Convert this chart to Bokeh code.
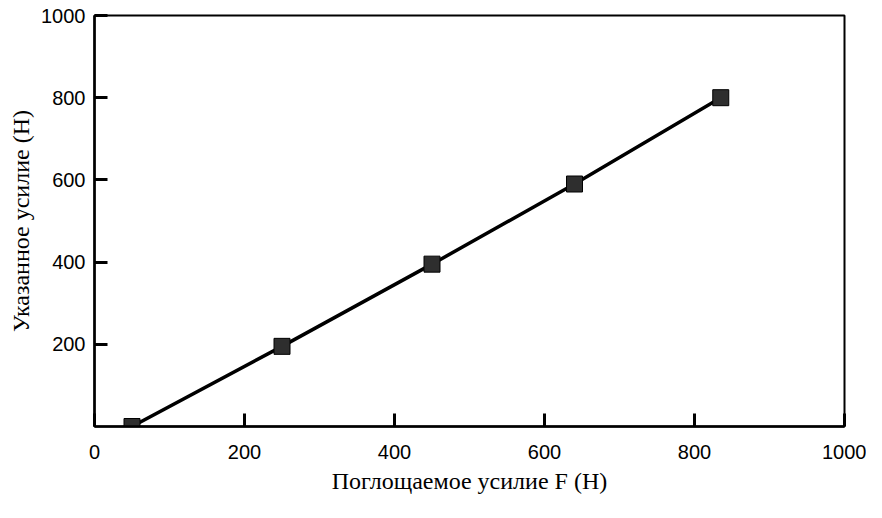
from bokeh.plotting import figure
from bokeh.models import FixedTicker, Range1d
from bokeh.embed import file_html
from bokeh.resources import INLINE

# Data
absorbed_force = [50, 250, 450, 640, 835]
indicated_force = [0, 195, 395, 590, 800]
x_ticks = [0, 200, 400, 600, 800, 1000]
y_ticks = [200, 400, 600, 800, 1000]

p = figure(width=866, height=502, output_backend="svg", toolbar_location=None,
           x_range=Range1d(0, 1000), y_range=Range1d(0, 1000),
           min_border_left=94, min_border_right=22, min_border_top=15, min_border_bottom=76)

p.xgrid.visible = False
p.ygrid.visible = False
p.outline_line_color = "black"
p.outline_line_width = 2
p.outline_line_alpha = 1.0
p.background_fill_color = "white"
p.border_fill_color = "white"

p.line(absorbed_force, indicated_force, line_color="black", line_width=3.5)
p.scatter(absorbed_force, indicated_force, marker="square", size=16,
          fill_color="#2e2e2e", line_color="black", line_width=1)

for ax in (p.xaxis[0], p.yaxis[0]):
    ax.axis_line_color = "black"
    ax.axis_line_width = 2.5
    ax.major_tick_in = 13
    ax.major_tick_out = 0
    ax.major_tick_line_width = 3
    ax.major_tick_line_color = "black"
    ax.minor_tick_line_color = None
    ax.major_label_text_font = "Liberation Sans"
    ax.major_label_text_font_size = "20px"
    ax.major_label_text_color = "black"
    ax.axis_label_text_font = "Liberation Serif"
    ax.axis_label_text_font_size = "24px"
    ax.axis_label_text_font_style = "normal"
    ax.axis_label_text_color = "black"

p.xaxis[0].ticker = FixedTicker(ticks=x_ticks)
p.yaxis[0].ticker = FixedTicker(ticks=y_ticks)
p.xaxis[0].major_label_standoff = 18
p.yaxis[0].major_label_standoff = 9
p.xaxis[0].axis_label = "Поглощаемое усилие F (Н)"
p.yaxis[0].axis_label = "Указанное усилие (Н)"
p.xaxis[0].axis_label_standoff = 6
p.yaxis[0].axis_label_standoff = 4

open("out.html", "w").write(file_html(p, INLINE))
